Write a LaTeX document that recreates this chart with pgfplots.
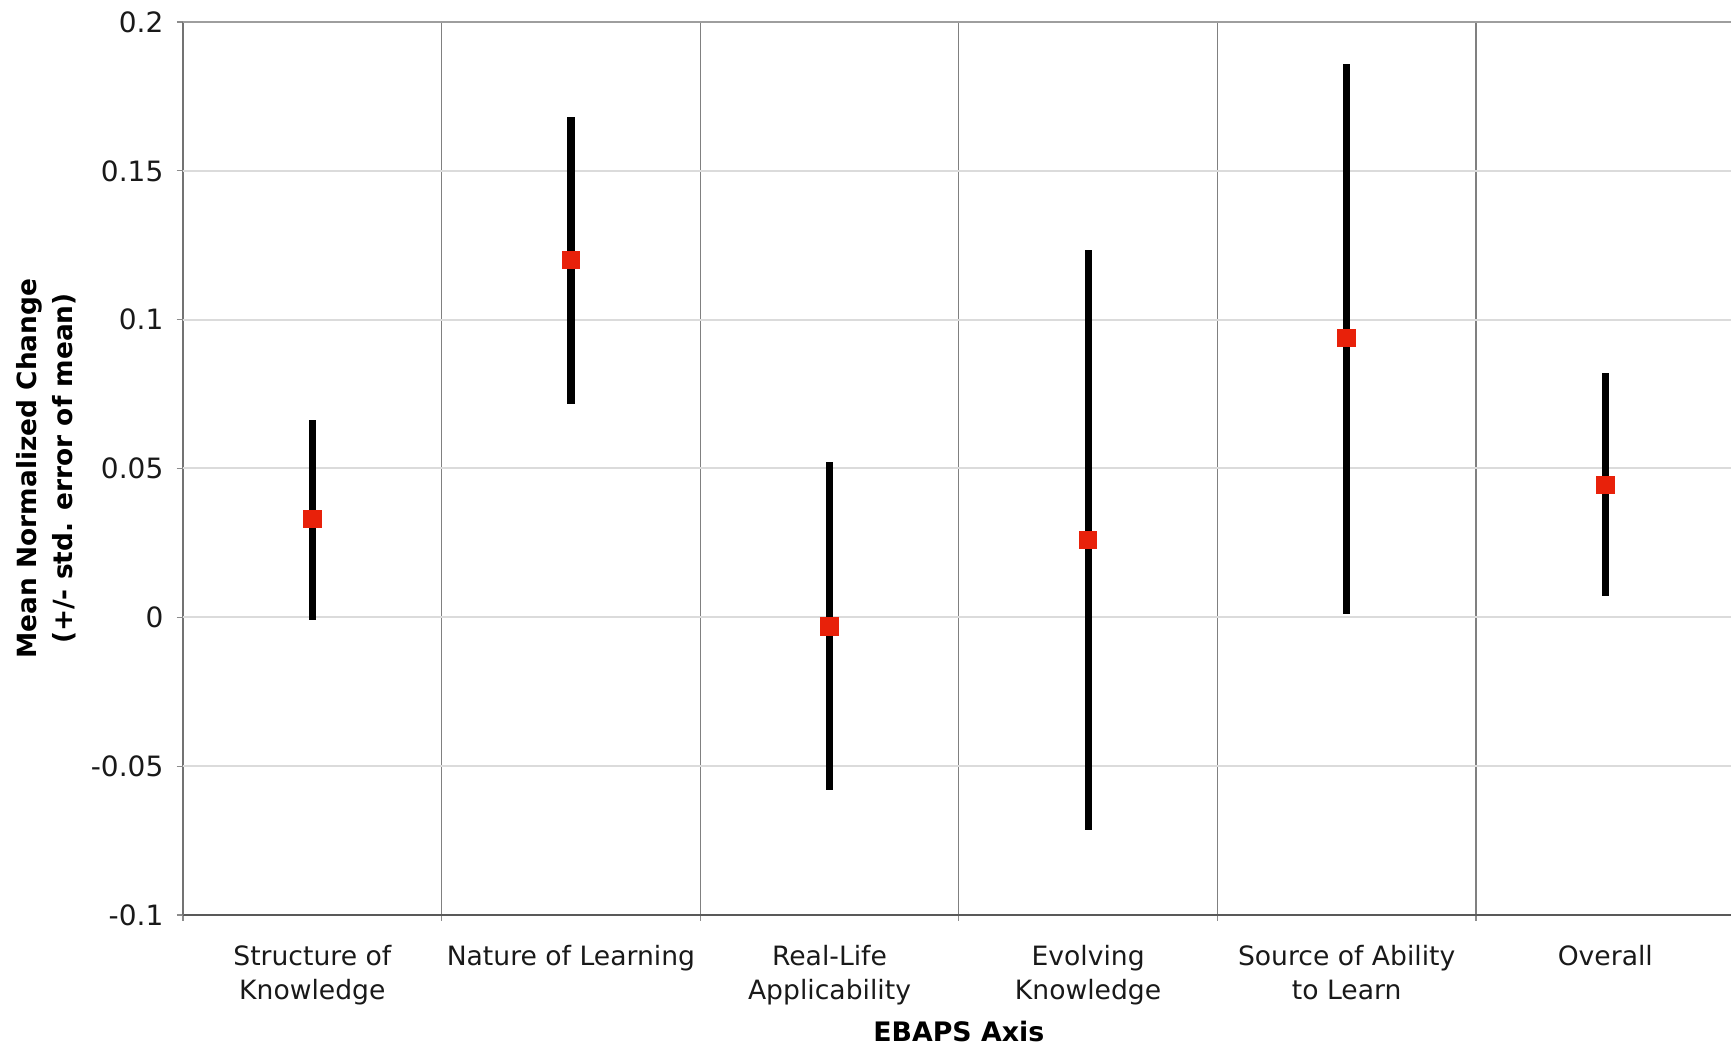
\documentclass[border=0pt]{standalone}
\usepackage{fontspec}
\setmainfont{DejaVu Sans}
\usepackage{pgfplots}
\usepackage{pgfplotstable}
\pgfplotsset{compat=1.18}
\definecolor{mred}{RGB}{232,33,10}
\pgfplotstableread{
x y ep em
0 0.0330 0.0334 0.0340
1 0.1200 0.0480 0.0484
2 -0.0030 0.0553 0.0550
3 0.0260 0.0975 0.0976
4 0.0939 0.0921 0.0928
5 0.0445 0.0375 0.0375
}\datatable
\begin{document}
\begin{tikzpicture}
\useasboundingbox (-91.5pt,-66pt) rectangle (774pt,457.5pt);
\begin{axis}[
  scale only axis, width=775.8pt, height=446.5pt,
  xmin=-0.5, xmax=5.5, ymin=-0.1, ymax=0.2,
  axis x line*=bottom, axis y line*=left,
  x axis line style={draw=black!65, line width=1pt},
  y axis line style={draw=black!55, line width=0.8pt},
  tick align=outside,
  major tick length=3pt,
  tick style={draw=black!45, line width=0.6pt},
  xtick={-0.5,0.5,1.5,2.5,3.5,4.5},
  xticklabels={},
  xmajorgrids,
  major grid style={draw=black!50, line width=0.6pt},
  extra x ticks={0,1,2,3,4,5},
  extra x tick labels={Structure of\\Knowledge, Nature of Learning, Real-Life\\Applicability, Evolving\\Knowledge, Source of Ability\\to Learn, Overall},
  extra x tick style={grid=none, tick style={draw=none}},
  xticklabel style={align=center, font=\fontsize{13.3}{17}\selectfont, text=black!90, yshift=-8.5pt},
  ytick={-0.1,-0.05,0,0.05,0.1,0.15,0.2},
  yticklabels={-0.1,-0.05,0,0.05,0.1,0.15,0.2},
  yticklabel style={font=\fontsize{14}{16}\selectfont, text=black!90, xshift=-3.3pt},
  ymajorgrids=false,
  extra y ticks={-0.05,0,0.05,0.1,0.15},
  extra y tick labels={},
  extra y tick style={grid=major, major grid style={draw=black!14, line width=1pt}},
  xlabel={EBAPS Axis},
  xlabel style={at={(axis description cs:0.5,0)}, anchor=center, yshift=-58.5pt, font=\bfseries\fontsize{13.4}{16}\selectfont},
  ylabel={Mean Normalized Change\\(+/- std. error of mean)},
  ylabel style={at={(axis description cs:0,0.5)}, anchor=center, yshift=68.5pt, align=center, font=\bfseries\fontsize{13.2}{18}\selectfont},
  clip=false,
]
\draw[draw=black!38, line width=1.3pt] (rel axis cs:0,1) -- (rel axis cs:1,1);
\addplot[draw=none, mark=none,
  error bars/.cd, y dir=both, y explicit, error mark=none,
  error bar style={draw=black, line width=3.6pt}]
  table[x=x, y=y, y error plus=ep, y error minus=em] {\datatable};
\addplot[only marks, mark=square*, mark size=4.4pt, mark options={fill=mred, draw=mred, line width=0pt}]
  table[x=x, y=y] {\datatable};
\end{axis}
\end{tikzpicture}
\end{document}
